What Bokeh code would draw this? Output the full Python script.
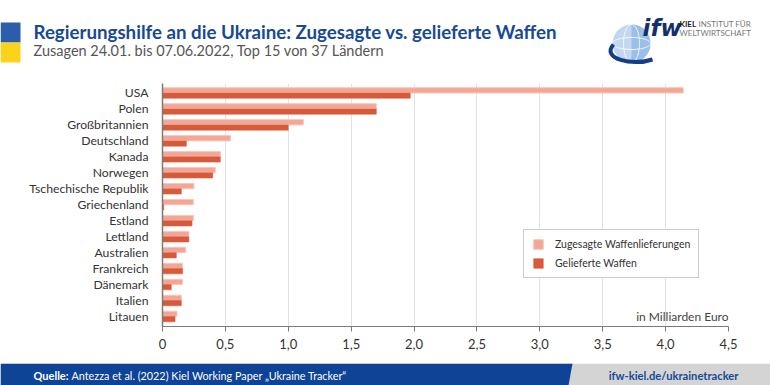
import numpy as np
import pandas as pd
from bokeh.plotting import figure
from bokeh.models import (ColumnDataSource, Range1d, FixedTicker, Legend, LegendItem, Label)
from bokeh.transform import dodge
from bokeh.core.properties import value
from bokeh.layouts import column
from bokeh.embed import file_html
from bokeh.resources import INLINE

# ---------------- data ----------------
countries = ["USA", "Polen", "Großbritannien", "Deutschland", "Kanada", "Norwegen",
             "Tschechische Republik", "Griechenland", "Estland", "Lettland", "Australien",
             "Frankreich", "Dänemark", "Italien", "Litauen"]
zugesagt = [4.14, 1.70, 1.12, 0.54, 0.46, 0.42, 0.25, 0.245, 0.245, 0.21, 0.185,
            0.16, 0.16, 0.15, 0.115]
geliefert = [1.97, 1.70, 1.00, 0.19, 0.46, 0.40, 0.15, 0.01, 0.235, 0.21, 0.11,
             0.16, 0.07, 0.15, 0.10]
x_ticks = [0, 0.5, 1.0, 1.5, 2.0, 2.5, 3.0, 3.5, 4.0, 4.5]
x_tick_labels = ["0", "0,5", "1,0", "1,5", "2,0", "2,5", "3,0", "3,5", "4,0", "4,5"]
series_names = ["Zugesagte Waffenlieferungen", "Gelieferte Waffen"]

title_text = "Regierungshilfe an die Ukraine: Zugesagte vs. gelieferte Waffen"
subtitle_text = "Zusagen 24.01. bis 07.06.2022, Top 15 von 37 Ländern"
source_bold = "Quelle:"
source_text = "Antezza et al. (2022) Kiel Working Paper „Ukraine Tracker\u201c"
url_text = "ifw-kiel.de/ukrainetracker"
unit_text = "in Milliarden Euro"

FONT = "Lato"
BLUE = "#174995"
LIGHT = "#f5a594"
DARK = "#d65a3b"
W = 770


def canvas(h):
    f = figure(width=W, height=h, x_range=Range1d(0, W), y_range=Range1d(h, 0),
               x_axis_type=None, y_axis_type=None,
               output_backend="svg", toolbar_location=None, min_border=0)
    f.frame_align = False
    f.grid.visible = False
    f.outline_line_color = None
    f.background_fill_color = "white"
    f.border_fill_color = "white"
    return f

# ---------------- header ----------------
hd = canvas(80)
hd.quad(left=[0], right=[20], top=[22], bottom=[42], fill_color="#2c5dab", line_color=None)
hd.quad(left=[0], right=[20], top=[42], bottom=[62], fill_color="#fbd31a", line_color=None)
hd.text(x=[33], y=[31.5], text=[title_text], text_font=value(FONT), text_font_style="bold",
        text_font_size="18.7px", text_color=BLUE, text_baseline="middle")
hd.text(x=[33], y=[49.5], text=[subtitle_text], text_font=value(FONT),
        text_font_size="14.5px", text_color="#555555", text_baseline="middle")
# logo
t = np.linspace(0, 2 * np.pi, 60)
hd.patch(631 + 19 * np.cos(t), 43 + 19 * np.sin(t), fill_color="#c3d8f0", line_color=None)
t2 = np.linspace(-np.pi / 2, np.pi / 2, 30)
hd.patch(631 + 19 * np.cos(t2), 43 + 19 * np.sin(t2), fill_color="#9bbfe6", line_color=None)
hd.line(631 + 19 * np.cos(t), 43 + 6 * np.sin(t), line_color="white", line_width=1, line_alpha=0.8)
hd.line(631 + 8 * np.cos(t), 43 + 19 * np.sin(t), line_color="white", line_width=1, line_alpha=0.8)
hd.bezier(x0=[613], y0=[44], x1=[652], y1=[59], cx0=[600], cy0=[58], cx1=[632], cy1=[66],
          line_color="#163d86", line_width=4)
hd.text(x=[642], y=[27], text=["ifw"], text_font=value("DejaVu Sans"), text_font_style="bold italic",
        text_font_size="23px", text_color="#132f6e", text_baseline="middle")
hd.text(x=[679], y=[23.5], text=["KIEL"], text_font=value(FONT), text_font_style="bold",
        text_font_size="8px", text_color="#222222", text_baseline="middle")
hd.text(x=[698], y=[23.5], text=["INSTITUT FÜR"], text_font=value(FONT),
        text_font_size="8px", text_color="#777777", text_baseline="middle")
hd.text(x=[679], y=[32.5], text=["WELTWIRTSCHAFT"], text_font=value(FONT),
        text_font_size="8px", text_color="#777777", text_baseline="middle")

# ---------------- chart ----------------
idx = list(range(len(countries)))
src = ColumnDataSource(pd.DataFrame({"idx": idx, "country": countries,
                                     "zugesagt": zugesagt, "geliefert": geliefert}))
p = figure(width=W, height=283, x_range=Range1d(0, 4.5), y_range=Range1d(14.627, -0.595),
           output_backend="svg", toolbar_location=None,
           min_border_left=162, min_border_right=42, min_border_top=3, min_border_bottom=37)
p.frame_align = False
p.outline_line_color = None
p.background_fill_color = "white"
p.border_fill_color = "white"

r1 = p.hbar(y=dodge("idx", -0.165, range=p.y_range), right="zugesagt", left=0, height=0.33,
            source=src, fill_color=LIGHT, line_color="#f9c6ba", line_width=1)
r2 = p.hbar(y=dodge("idx", 0.165, range=p.y_range), right="geliefert", left=0, height=0.33,
            source=src, fill_color=DARK, line_color=DARK, line_width=0.5)

p.xaxis.ticker = FixedTicker(ticks=x_ticks)
p.xaxis.major_label_overrides = dict(zip(x_ticks, x_tick_labels))
p.xaxis.major_tick_out = 5
p.xaxis.major_tick_in = 0
p.xaxis.minor_tick_line_color = None
p.xaxis.axis_line_color = "#7a7a7a"
p.xaxis.major_tick_line_color = "#7a7a7a"
p.xaxis.major_label_standoff = 7
p.xaxis.major_label_text_font = FONT
p.xaxis.major_label_text_font_size = "13px"
p.xaxis.major_label_text_color = "#333333"

p.yaxis.ticker = FixedTicker(ticks=idx)
p.yaxis.major_label_overrides = dict(zip(idx, countries))
p.yaxis.major_tick_line_color = None
p.yaxis.minor_tick_line_color = None
p.yaxis.axis_line_color = "#7a7a7a"
p.yaxis.axis_line_width = 1.5
p.yaxis.major_label_standoff = 8
p.yaxis.major_label_text_font = FONT
p.yaxis.major_label_text_font_size = "12.2px"
p.yaxis.major_label_text_color = "#333333"

p.xgrid.ticker = FixedTicker(ticks=x_ticks)
p.xgrid.grid_line_color = "#e2e2e2"
p.ygrid.grid_line_color = None

legend = Legend(items=[LegendItem(label=series_names[0], renderers=[r1]),
                       LegendItem(label=series_names[1], renderers=[r2])],
                location=(361, 48), glyph_width=12, glyph_height=12, label_height=12,
                label_standoff=11, label_width=135, padding=8, spacing=7, margin=0,
                border_line_color="#9a9a9a", border_line_width=1,
                background_fill_color="white", background_fill_alpha=1,
                label_text_font=FONT, label_text_font_size="10.5px", label_text_color="#333333")
p.add_layout(legend, "center")

p.add_layout(Label(x=4.5, y=14.03, text=unit_text, text_align="right", text_baseline="middle",
                   text_font=FONT, text_font_size="12px", text_color="#444444"))

# ---------------- footer ----------------
ft = canvas(22)
ft.quad(left=[0], right=[W], top=[0], bottom=[22], fill_color="#d4d4d4", line_color=None)
ft.patch([0, 572, 568, 0], [0, 0, 22, 22], fill_color="#0e4395", line_color=None)
ft.text(x=[33], y=[11.5], text=[source_bold], text_font=value(FONT), text_font_style="bold",
        text_font_size="11px", text_color="white", text_baseline="middle")
ft.text(x=[71], y=[11.5], text=[source_text], text_font=value(FONT),
        text_font_size="10.8px", text_color="white", text_baseline="middle")
ft.text(x=[738], y=[11.5], text=[url_text], text_font=value(FONT), text_font_style="bold",
        text_font_size="11.2px", text_color=BLUE, text_baseline="middle", text_align="right")

layout = column(hd, p, ft, spacing=0)
html = file_html(layout, INLINE)
html = html.replace("<head>", "<head><style>html,body{margin:0;padding:0;overflow:hidden;}</style>", 1)
open("out.html", "w").write(html)
